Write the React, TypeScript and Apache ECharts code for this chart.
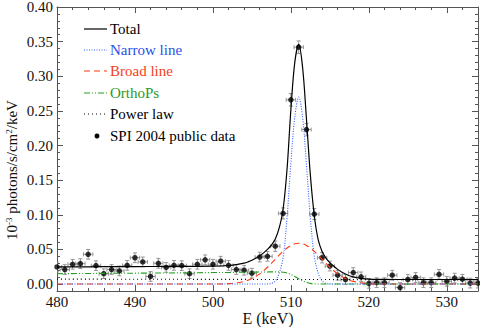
import React, { useEffect, useRef } from "react";
import * as echarts from "echarts";

// ---- Data points (SPI 2004 public data) ----
const energies = [
  480, 481, 482, 483, 484, 485, 486, 487, 488, 489,
  490, 491, 492, 493, 494, 495, 496, 497, 498, 499,
  500, 501, 502, 503, 504, 505, 506, 507, 508, 509,
  510, 511, 512, 513, 514, 515, 516, 517, 518, 519,
  520, 521, 522, 523, 524, 525, 526, 527, 528, 529,
  530, 531, 532, 533, 534,
];
const counts = [
  0.0247, 0.021, 0.0286, 0.0295, 0.043, 0.0266, 0.015, 0.021, 0.019, 0.027,
  0.038, 0.032, 0.011, 0.03, 0.024, 0.027, 0.0266, 0.015, 0.0286, 0.035,
  0.0286, 0.033, 0.027, 0.021, 0.02, 0.0157, 0.039, 0.04, 0.0547, 0.102,
  0.266, 0.342, 0.223, 0.101, 0.038, 0.026, 0.0128, 0.0066, 0.0166, 0.0104,
  0.001, 0.002, 0.002, 0.0128, -0.005, 0.0066, 0.0095, 0.002, 0.002, 0.014,
  0.004, 0.0086, 0.007, 0.0014, 0.0014,
];
const errors = [
  0.007, 0.007, 0.007, 0.007, 0.007, 0.007, 0.007, 0.007, 0.007, 0.007,
  0.007, 0.007, 0.007, 0.007, 0.007, 0.007, 0.007, 0.007, 0.007, 0.007,
  0.007, 0.007, 0.007, 0.007, 0.007, 0.007, 0.007, 0.007, 0.0075, 0.008,
  0.009, 0.009, 0.009, 0.008, 0.0075, 0.007, 0.007, 0.007, 0.007, 0.007,
  0.007, 0.007, 0.007, 0.007, 0.007, 0.007, 0.007, 0.007, 0.007, 0.007,
  0.007, 0.007, 0.007, 0.007, 0.007,
];

// ---- Model curves ----
const curveE = [
  480, 484, 488, 492, 496, 500, 502, 503, 504, 504.5,
  505, 505.5, 506, 506.5, 507, 507.5, 508, 508.5, 509, 509.5,
  510, 510.5, 511, 511.5, 512, 512.5, 513, 513.5, 514, 514.5,
  515, 515.5, 516, 516.5, 517, 517.5, 518, 518.5, 519, 520,
  521, 522, 526, 530, 534,
];
const totalFit = [
  0.0247, 0.0249, 0.0252, 0.0254, 0.0256, 0.0259, 0.0268, 0.028, 0.0302, 0.032,
  0.0343, 0.0372, 0.0407, 0.045, 0.05, 0.0562, 0.065, 0.081, 0.108, 0.165,
  0.252, 0.32, 0.346, 0.313, 0.238, 0.157, 0.099, 0.064, 0.047, 0.0375,
  0.031, 0.0258, 0.0212, 0.0175, 0.0145, 0.0121, 0.0104, 0.0091, 0.0082, 0.0072,
  0.0068, 0.0067, 0.0066, 0.0066, 0.0065,
];
const narrowLine = [
  0, 0, 0, 0, 0, 0, 0, 0, 0, 0,
  0, 0, 0, 0, 0.0002, 0.001, 0.0046, 0.0159, 0.038, 0.095,
  0.175, 0.241, 0.27, 0.241, 0.172, 0.095, 0.04, 0.0159, 0.0046, 0.001,
  0.0002, 0, 0, 0, 0, 0, 0, 0, 0, 0,
  0, 0, 0, 0, 0,
];
const broadLine = [
  0, 0, 0, 0, 0, 0, 0.0007, 0.0017, 0.0039, 0.0056,
  0.008, 0.011, 0.0147, 0.0192, 0.0243, 0.0299, 0.0358, 0.0417, 0.0472, 0.0521,
  0.0558, 0.0582, 0.059, 0.0582, 0.0558, 0.0521, 0.0472, 0.0417, 0.0358, 0.0299,
  0.0243, 0.0192, 0.0147, 0.011, 0.008, 0.0056, 0.0039, 0.0026, 0.0017, 0.0007,
  0.0002, 0, 0, 0, 0,
];
const orthoPs = [
  0.015, 0.0153, 0.0156, 0.0159, 0.0162, 0.0166, 0.0168, 0.017, 0.0171, 0.0172,
  0.0173, 0.0173, 0.0174, 0.0175, 0.0175, 0.0176, 0.0176, 0.0175, 0.017, 0.016,
  0.014, 0.011, 0.0078, 0.0048, 0.0025, 0.001, 0.0003, 0, 0, 0,
  0, 0, 0, 0, 0, 0, 0, 0, 0, 0,
  0, 0, 0, 0, 0,
];
const powerLawE = [480, 490, 500, 510, 520, 534];
const powerLaw = [0.0072, 0.007, 0.0068, 0.0066, 0.0064, 0.0062];

// ---- Ticks ----
const xMajorTicks = [480, 490, 500, 510, 520, 530];
const xMinorTicks = [482, 484, 486, 488, 492, 494, 496, 498, 502, 504, 506, 508, 512, 514, 516, 518, 522, 524, 526, 528, 532];
const yMajorTicks = [0, 0.05, 0.1, 0.15, 0.2, 0.25, 0.3, 0.35, 0.4];
const yMinorTicks = [
  0.01, 0.02, 0.03, 0.04, 0.06, 0.07, 0.08, 0.09, 0.11, 0.12, 0.13, 0.14,
  0.16, 0.17, 0.18, 0.19, 0.21, 0.22, 0.23, 0.24, 0.26, 0.27, 0.28, 0.29,
  0.31, 0.32, 0.33, 0.34, 0.36, 0.37, 0.38, 0.39,
];

const legendLabels = ["Total", "Narrow line", "Broad line", "OrthoPs", "Power law", "SPI 2004 public data"];
const xTitle = "E (keV)";
const yTitle = "10{sup|-3} photons/s/cm{sup|2}/keV";

const SERIF = "'Liberation Serif', 'Times New Roman', serif";
const FRAME = "#555";
const C_TOTAL = "#000000";
const C_NARROW = "#3060ff";
const C_BROAD = "#ff3a10";
const C_ORTHO = "#22a022";
const C_PL = "#000000";
const T_NARROW = "#2a50e6";
const T_BROAD = "#f5401a";
const T_ORTHO = "#2a9a2a";

const X_MIN = 480;
const X_MAX = 534;
const Y_MIN = -0.01;
const Y_MAX = 0.4;
const HALF_BIN = 0.6;

function pairs(xs: number[], ys: number[]) {
  return xs.map((x, i) => [x, ys[i]]);
}

export default function App() {
  const ref = useRef<HTMLDivElement>(null);
  useEffect(() => {
    if (!ref.current) return;
    const chart = echarts.init(ref.current, undefined, { renderer: "svg" });

    const xAxisBase = (position: string, ticks: number[], len: number, labels: boolean, withLine: boolean) => ({
      type: "value",
      min: X_MIN,
      max: X_MAX,
      position,
      axisLine: { show: withLine, onZero: false, lineStyle: { color: FRAME, width: 1 } },
      axisTick: { show: true, inside: true, length: len, customValues: ticks, lineStyle: { color: FRAME, width: 1 } },
      axisLabel: labels
        ? { show: true, customValues: xMajorTicks, fontFamily: SERIF, fontSize: 15, color: "#111", margin: 3 }
        : { show: false },
      splitLine: { show: false },
    });
    const yAxisBase = (position: string, ticks: number[], len: number, labels: boolean, withLine: boolean) => ({
      type: "value",
      min: Y_MIN,
      max: Y_MAX,
      position,
      axisLine: { show: withLine, onZero: false, lineStyle: { color: FRAME, width: 1 } },
      axisTick: { show: true, inside: true, length: len, customValues: ticks, lineStyle: { color: FRAME, width: 1 } },
      axisLabel: labels
        ? {
            show: true,
            customValues: yMajorTicks,
            fontFamily: SERIF,
            fontSize: 15,
            color: "#111",
            margin: 4,
            formatter: (v: number) => v.toFixed(2),
          }
        : { show: false },
      splitLine: { show: false },
    });

    const xAxes: any[] = [
      xAxisBase("bottom", xMajorTicks, 6, true, true),
      xAxisBase("bottom", xMinorTicks, 3, false, false),
      xAxisBase("top", xMajorTicks, 6, false, true),
      xAxisBase("top", xMinorTicks, 3, false, false),
    ];
    const yAxes: any[] = [
      yAxisBase("left", yMajorTicks, 6, true, true),
      yAxisBase("left", yMinorTicks, 3, false, false),
      yAxisBase("right", yMajorTicks, 6, false, true),
      yAxisBase("right", yMinorTicks, 3, false, false),
    ];

    const lineSeries = (name: string, data: number[][], color: string, type: any, width = 1.1) => ({
      name,
      type: "line",
      data,
      xAxisIndex: 0,
      yAxisIndex: 0,
      showSymbol: false,
      symbol: "none",
      smooth: 0.35,
      clip: true,
      lineStyle: { color, width, type },
      silent: true,
    });

    const legendRowsY = [29, 50, 71, 93, 114, 136];
    const legendStyles: any[] = [
      { stroke: C_TOTAL, lineWidth: 1.2 },
      { stroke: C_NARROW, lineWidth: 1.2, lineDash: [1, 1.5] },
      { stroke: C_BROAD, lineWidth: 1.2, lineDash: [6, 4] },
      { stroke: C_ORTHO, lineWidth: 1.2, lineDash: [6, 2, 1, 2, 1, 2] },
      { stroke: C_PL, lineWidth: 1.2, lineDash: [1, 3] },
    ];
    const legendTextColors = ["#000", T_NARROW, T_BROAD, T_ORTHO, "#000", "#000"];
    const graphics: any[] = [];
    legendLabels.forEach((label, i) => {
      const y = legendRowsY[i];
      if (i < 5) {
        graphics.push({
          type: "line",
          shape: { x1: 84, y1: y, x2: 107, y2: y },
          style: legendStyles[i],
          silent: true,
        });
      } else {
        graphics.push({
          type: "circle",
          shape: { cx: 97, cy: y, r: 2.5 },
          style: { fill: "#000" },
          silent: true,
        });
      }
      graphics.push({
        type: "text",
        x: 110,
        y,
        style: {
          text: label,
          fill: legendTextColors[i],
          fontFamily: SERIF,
          fontSize: 15,
          verticalAlign: "middle",
          align: "left",
        },
        silent: true,
      });
    });
    // axis titles
    graphics.push({
      type: "text",
      x: 268,
      y: 318,
      style: {
        text: xTitle,
        fill: "#111",
        fontFamily: SERIF,
        fontSize: 16,
        align: "center",
        verticalAlign: "middle",
      },
      silent: true,
    });
    graphics.push({
      type: "text",
      x: 12,
      y: 240,
      rotation: Math.PI / 2,
      style: {
        text: yTitle,
        fill: "#111",
        fontFamily: SERIF,
        fontSize: 15,
        align: "left",
        verticalAlign: "middle",
        rich: { sup: { fontFamily: SERIF, fontSize: 9, fill: "#111", verticalAlign: "top" } },
      },
      silent: true,
    });

    const option: any = {
      animation: false,
      backgroundColor: "#ffffff",
      grid: { left: 57, right: 2, top: 7, bottom: 36, containLabel: false, outerBoundsMode: "none" },
      xAxis: xAxes,
      yAxis: yAxes,
      graphic: graphics,
      series: [
        lineSeries("Power law", pairs(powerLawE, powerLaw), C_PL, [1, 3]),
        lineSeries("OrthoPs", pairs(curveE, orthoPs), C_ORTHO, [6, 2, 1, 2, 1, 2]),
        lineSeries("Broad line", pairs(curveE, broadLine), C_BROAD, [6, 4]),
        lineSeries("Narrow line", pairs(curveE, narrowLine), C_NARROW, [1, 1.5]),
        lineSeries("Total", pairs(curveE, totalFit), C_TOTAL, "solid", 1.2),
        {
          name: "errors",
          type: "custom",
          xAxisIndex: 0,
          yAxisIndex: 0,
          clip: true,
          silent: true,
          data: energies.map((e, i) => [e, counts[i], errors[i]]),
          encode: { x: 0, y: 1 },
          renderItem: (_params: any, api: any) => {
            const x = api.value(0);
            const y = api.value(1);
            const e = api.value(2);
            const c = api.coord([x, y]);
            const top = api.coord([x, y + e]);
            const bot = api.coord([x, y - e]);
            const l = api.coord([x - HALF_BIN, y]);
            const r = api.coord([x + HALF_BIN, y]);
            const style = { stroke: "#8a8a8a", lineWidth: 0.9 };
            const cap = 2;
            return {
              type: "group",
              children: [
                { type: "line", shape: { x1: c[0], y1: top[1], x2: c[0], y2: bot[1] }, style },
                { type: "line", shape: { x1: l[0], y1: c[1], x2: r[0], y2: c[1] }, style },
                { type: "line", shape: { x1: c[0] - cap, y1: top[1], x2: c[0] + cap, y2: top[1] }, style },
                { type: "line", shape: { x1: c[0] - cap, y1: bot[1], x2: c[0] + cap, y2: bot[1] }, style },
                { type: "line", shape: { x1: l[0], y1: c[1] - cap, x2: l[0], y2: c[1] + cap }, style },
                { type: "line", shape: { x1: r[0], y1: c[1] - cap, x2: r[0], y2: c[1] + cap }, style },
              ],
            };
          },
        },
        {
          name: "SPI 2004 public data",
          type: "scatter",
          xAxisIndex: 0,
          yAxisIndex: 0,
          data: pairs(energies, counts),
          symbol: "circle",
          symbolSize: 5.5,
          itemStyle: { color: "#000" },
          silent: true,
        },
      ],
    };
    chart.setOption(option);
    return () => chart.dispose();
  }, []);

  return (
    <div
      ref={ref}
      style={{ position: "fixed", left: 0, top: 0, width: 480, height: 327, background: "#fff" }}
    />
  );
}
